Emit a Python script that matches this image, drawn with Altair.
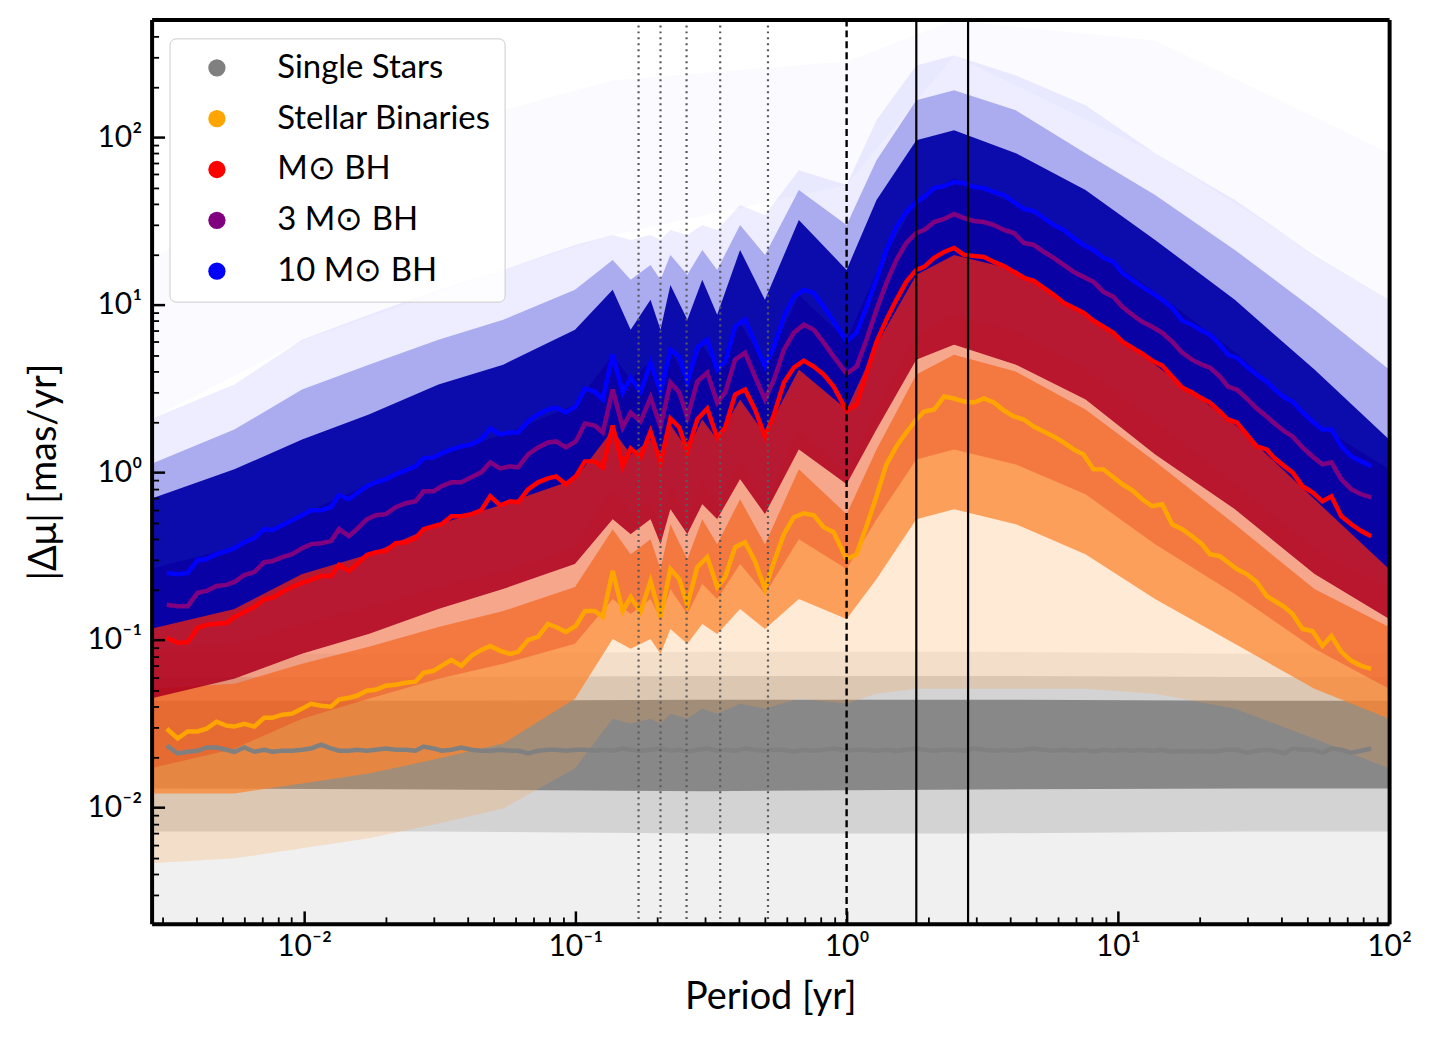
import altair as alt
import pandas as pd

# ---------------- median curves ----------------
PERIOD = [0.003116, 0.003419, 0.003720, 0.004049, 0.004369, 0.004755, 0.005172, 0.005534, 0.006022, 0.006553,
          0.007131, 0.007629, 0.008305, 0.009036, 0.009833, 0.01061, 0.01155, 0.01256, 0.01344, 0.01463,
          0.01565, 0.01703, 0.01837, 0.01999, 0.02176, 0.02367, 0.02576, 0.02757, 0.03000, 0.03209,
          0.03492, 0.03800, 0.04135, 0.04499, 0.04855, 0.05283, 0.05749, 0.06152, 0.06694, 0.07285,
          0.07926, 0.08482, 0.09229, 0.1004, 0.1084, 0.1179,
          0.1262, 0.1373, 0.1494, 0.1599, 0.1739, 0.1893, 0.2060, 0.2241, 0.2417, 0.2587,
          0.2815, 0.3063, 0.3333, 0.3567, 0.3881, 0.4222, 0.4595, 0.5000, 0.5397, 0.5873,
          0.6390, 0.6953, 0.7566, 0.8233, 0.8959, 1.0, 1.088, 1.184, 1.289,
          1.402, 1.526, 1.660, 1.807, 1.932, 2.103, 2.288, 2.490, 2.710, 2.949,
          3.209, 3.493, 3.800, 4.136, 4.500, 4.897, 5.329, 5.799, 6.310, 6.867,
          7.472, 8.131, 8.848, 9.627, 10.39,
          11.30, 12.30, 13.38, 14.57, 15.85, 17.25, 18.77, 20.42, 21.85, 23.78,
          25.44, 27.45, 29.87, 32.50, 35.37, 37.84, 41.18, 44.06, 47.95, 52.17,
          56.77, 61.26, 66.66, 72.54, 78.93, 85.89]

SINGLE = [0.0234, 0.0210, 0.0215, 0.0218, 0.0228, 0.0228, 0.0221, 0.0215, 0.0228, 0.0215,
          0.0221, 0.0215, 0.0218, 0.0218, 0.0221, 0.0225, 0.0237, 0.0225, 0.0218, 0.0218,
          0.0221, 0.0218, 0.0221, 0.0225, 0.0221, 0.0221, 0.0218, 0.0231, 0.0225, 0.0218,
          0.0221, 0.0228, 0.0221, 0.0218, 0.0218, 0.0221, 0.0218, 0.0218, 0.0210, 0.0218,
          0.0221, 0.0221, 0.0218, 0.0221, 0.0221, 0.0218,
          0.0221, 0.0218, 0.0225, 0.0221, 0.0218, 0.0221, 0.0225, 0.0218, 0.0221, 0.0215,
          0.0221, 0.0225, 0.0218, 0.0221, 0.0218, 0.0225, 0.0221, 0.0218, 0.0221, 0.0221,
          0.0215, 0.0221, 0.0218, 0.0221, 0.0225, 0.0218, 0.0221, 0.0221, 0.0218,
          0.0221, 0.0218, 0.0221, 0.0225, 0.0221, 0.0218, 0.0221, 0.0221, 0.0218, 0.0225,
          0.0221, 0.0218, 0.0221, 0.0218, 0.0221, 0.0225, 0.0221, 0.0218, 0.0221, 0.0218,
          0.0221, 0.0215, 0.0221, 0.0218, 0.0221,
          0.0218, 0.0221, 0.0218, 0.0221, 0.0215, 0.0218, 0.0215, 0.0218, 0.0215, 0.0218,
          0.0221, 0.0221, 0.0212, 0.0218, 0.0221, 0.0218, 0.0210, 0.0225, 0.0221, 0.0221,
          0.0212, 0.0225, 0.0221, 0.0212, 0.0218, 0.0225]

BINARY = [0.0295, 0.0258, 0.0284, 0.0284, 0.0295, 0.0325, 0.0308, 0.0304, 0.0316, 0.0304,
          0.0343, 0.0343, 0.0358, 0.0363, 0.0389, 0.0416, 0.0405, 0.0399, 0.0440, 0.0452,
          0.0464, 0.0497, 0.0504, 0.0533, 0.0540, 0.0555, 0.0563, 0.0636, 0.0654, 0.0700,
          0.0761, 0.0700, 0.0803, 0.0872, 0.0921, 0.0861, 0.0826, 0.0849, 0.1000, 0.1042,
          0.1245, 0.1195, 0.1116, 0.1212, 0.1488, 0.1488,
          0.1371, 0.2575, 0.1488, 0.1803, 0.1468, 0.2245, 0.1371, 0.2647, 0.2308, 0.1616,
          0.2720, 0.3120, 0.2068, 0.2372, 0.3578, 0.3830, 0.2954, 0.2012, 0.2913, 0.4277,
          0.5399, 0.5703, 0.5549, 0.4707, 0.4395, 0.3035, 0.3250, 0.4770, 0.7200,
          1.116, 1.428, 1.730, 2.068, 2.308, 2.372, 2.835, 2.758, 2.647, 2.611,
          2.758, 2.611, 2.339, 2.155, 2.068, 1.879, 1.754, 1.638, 1.509, 1.371,
          1.280, 1.042, 1.042, 0.934, 0.849,
          0.782, 0.691, 0.628, 0.645, 0.490, 0.458, 0.416, 0.373, 0.325, 0.316,
          0.291, 0.265, 0.247, 0.2215, 0.1828, 0.1707, 0.1572, 0.1428, 0.1163, 0.1131,
          0.0921, 0.1056, 0.0849, 0.0750, 0.0700, 0.0672]

BH1 = [0.103, 0.096, 0.097, 0.118, 0.123, 0.125, 0.126, 0.137, 0.147, 0.157,
       0.175, 0.178, 0.193, 0.207, 0.219, 0.228, 0.241, 0.241, 0.280, 0.258,
       0.284, 0.321, 0.334, 0.339, 0.378, 0.383, 0.405, 0.458, 0.477, 0.490,
       0.547, 0.547, 0.563, 0.594, 0.720, 0.636, 0.672, 0.663, 0.792, 0.872,
       0.921, 0.947, 0.849, 0.947, 1.163, 1.163,
       1.071, 1.905, 1.086, 1.390, 1.228, 1.754, 1.147, 2.097, 1.853, 1.334,
       2.068, 2.405, 1.616, 1.853, 2.913, 3.120, 2.372, 1.638, 2.215, 3.434,
       4.218, 4.643, 4.277, 3.832, 3.251, 2.339, 2.540, 3.939, 6.024,
       8.145, 10.71, 13.71, 16.16, 16.84, 19.05, 20.68, 21.85, 19.85, 19.58,
       19.31, 18.03, 17.07, 15.72, 14.48, 13.90, 12.63, 11.47, 10.28, 9.602,
       8.965, 8.034, 7.400, 6.815, 6.024,
       5.549, 5.111, 4.643, 4.336, 3.729, 3.207, 2.994, 2.758, 2.611, 2.308,
       2.068, 1.985, 1.684, 1.428, 1.371, 1.212, 1.086, 1.000, 0.826, 0.761,
       0.672, 0.720, 0.547, 0.490, 0.446, 0.416]

BH3 = [0.162, 0.159, 0.159, 0.191, 0.196, 0.210, 0.213, 0.222, 0.244, 0.254,
       0.291, 0.295, 0.312, 0.325, 0.353, 0.373, 0.378, 0.389, 0.458, 0.416,
       0.458, 0.525, 0.555, 0.563, 0.619, 0.654, 0.672, 0.771, 0.771, 0.826,
       0.872, 0.872, 0.934, 1.000, 1.147, 1.056, 1.086, 1.071, 1.280, 1.409,
       1.509, 1.530, 1.409, 1.530, 1.958, 1.905,
       1.730, 3.120, 1.853, 2.276, 2.012, 2.796, 1.879, 3.434, 2.994, 2.126,
       3.481, 3.939, 2.611, 2.994, 4.707, 5.181, 3.729, 2.720, 3.578, 5.399,
       6.815, 7.606, 7.101, 5.942, 4.905, 3.885, 4.277, 6.192, 9.342,
       13.52, 18.53, 23.39, 26.83, 27.96, 31.20, 32.51, 34.81, 32.96, 31.63,
       31.20, 29.94, 27.96, 26.83, 23.39, 22.76, 20.68, 19.05, 17.30, 15.72,
       14.68, 13.71, 11.95, 11.16, 9.734,
       8.724, 7.925, 7.400, 6.815, 6.024, 5.181, 4.707, 4.395, 4.218, 3.729,
       3.251, 3.120, 2.758, 2.405, 2.155, 1.958, 1.754, 1.638, 1.409, 1.245,
       1.116, 1.147, 0.909, 0.792, 0.740, 0.710]

BH10 = [0.251, 0.247, 0.251, 0.299, 0.304, 0.325, 0.339, 0.353, 0.383, 0.405,
        0.458, 0.452, 0.484, 0.518, 0.555, 0.594, 0.594, 0.619, 0.730, 0.691,
        0.750, 0.826, 0.872, 0.909, 0.973, 1.028, 1.086, 1.212, 1.228, 1.298,
        1.371, 1.428, 1.468, 1.572, 1.828, 1.684, 1.730, 1.730, 2.012, 2.215,
        2.372, 2.438, 2.276, 2.471, 3.163, 3.035,
        2.720, 5.041, 2.994, 3.678, 3.035, 4.517, 3.035, 5.399, 4.905, 3.434,
        5.549, 6.192, 4.104, 4.579, 7.400, 8.145, 5.942, 4.277, 5.626, 8.488,
        11.16, 12.28, 11.79, 9.734, 7.925, 6.024, 6.815, 9.734, 14.28,
        21.26, 29.13, 35.78, 41.04, 43.95, 49.72, 51.11, 53.99, 53.25, 50.41,
        49.72, 47.07, 45.17, 41.04, 37.29, 36.28, 32.96, 29.94, 27.96, 25.06,
        22.76, 21.26, 19.05, 18.03, 15.51,
        14.09, 12.80, 11.79, 10.71, 9.602, 8.034, 7.606, 7.004, 6.631, 5.782,
        5.041, 4.838, 4.277, 3.832, 3.481, 3.120, 2.796, 2.647, 2.276, 2.012,
        1.803, 1.803, 1.428, 1.245, 1.163, 1.086]

# ---------------- point-cloud envelopes ----------------
ENV_P = [0.0027, 0.00553, 0.00983, 0.01732, 0.03129, 0.05419, 0.0997, 0.1373, 0.1599, 0.1893,
         0.2060, 0.2241, 0.2587, 0.2937, 0.3333, 0.4048, 0.5000, 0.6666, 1.000, 1.289,
         1.807, 2.490, 4.206, 7.597, 13.72, 26.99, 53.06, 100.0]

BLUE_HAZE_TOP = [2.068, 3.342, 6.192, 8.724, 12.28, 16.16, 22.76, 26.11, 24.38, 26.11,
                 24.38, 27.96, 26.11, 29.94, 27.96, 39.39, 34.34, 63.64, 51.81, 126.3,
                 268.3, 307.7, 233.9, 155.1, 80.34, 42.18, 19.85, 10.71]
BLUE_MID_TOP = [1.116, 1.803, 3.120, 4.395, 6.192, 8.145, 12.28, 18.53, 14.09, 17.30,
                14.09, 19.85, 15.09, 21.26, 16.16, 29.94, 19.85, 48.38, 29.94, 72.99,
                166.1, 190.5, 144.8, 80.34, 45.17, 21.26, 9.342, 4.104]
BLUE_CORE_TOP = [0.691, 1.042, 1.572, 2.215, 3.342, 4.395, 7.101, 12.28, 7.101, 10.71,
                 7.101, 13.15, 8.145, 14.09, 8.724, 21.26, 10.71, 32.07, 16.16, 42.18,
                 96.02, 110.1, 80.34, 48.38, 24.38, 10.71, 4.104, 1.572]
BLUE_CORE_BOT = [0.1163, 0.1530, 0.2471, 0.325, 0.490, 0.645, 0.909, 1.803, 1.280, 1.572,
                 1.195, 1.931, 1.371, 2.068, 1.572, 2.720, 1.684, 4.104, 2.372, 5.782,
                 15.09, 19.85, 16.16, 8.724, 4.395, 1.931, 0.691, 0.2647]

RED_TOP = [0.2647, 0.3578, 0.563, 0.849, 1.280, 1.684, 2.540, 5.041, 3.578, 4.579,
           2.994, 5.399, 3.481, 5.782, 4.218, 7.925, 4.277, 11.47, 6.192, 15.72,
           42.18, 57.03, 39.93, 23.08, 11.95, 5.252, 1.985, 1.042]
RED_CORE_BOT = [0.04456, 0.0586, 0.0826, 0.1086, 0.1530, 0.2012, 0.2835, 0.525, 0.4277, 0.525,
                0.373, 0.6024, 0.4277, 0.645, 0.525, 0.909, 0.563, 1.371, 0.849, 1.803,
                4.707, 5.782, 4.395, 2.720, 1.280, 0.6024, 0.2471, 0.1334]
RED_HAZE_BOT = [0.01707, 0.02245, 0.03388, 0.04456, 0.0586, 0.07199, 0.09471, 0.1754, 0.1428, 0.1754,
                0.1334, 0.2012, 0.1428, 0.2155, 0.1754, 0.2835, 0.1879, 0.3993, 0.2647, 0.525,
                1.195, 1.371, 1.116, 0.740, 0.373, 0.1879, 0.08844, 0.05111]

ORANGE_HAZE_TOP = [0.08844, 0.09471, 0.1245, 0.1572, 0.2068, 0.2575, 0.3578, 0.792, 0.563, 0.691,
                   0.458, 0.849, 0.525, 0.909, 0.645, 1.195, 0.645, 1.803, 0.973, 2.372,
                   6.631, 8.724, 6.909, 4.104, 2.012, 0.849, 0.3481, 0.2068]
ORANGE_CORE_TOP = [0.05111, 0.05473, 0.07199, 0.09089, 0.1195, 0.1488, 0.2068, 0.458, 0.325, 0.3993,
                   0.2647, 0.490, 0.3035, 0.525, 0.373, 0.691, 0.373, 1.042, 0.563, 1.371,
                   3.832, 5.041, 3.993, 2.372, 1.163, 0.490, 0.2012, 0.1195]
ORANGE_CORE_BOT = [0.01212, 0.01212, 0.01390, 0.01594, 0.01958, 0.02405, 0.04456, 0.1014, 0.08844, 0.1014,
                   0.0826, 0.1163, 0.09471, 0.1245, 0.1086, 0.1530, 0.1163, 0.1754, 0.1334, 0.2308,
                   0.525, 0.6024, 0.490, 0.325, 0.1754, 0.09471, 0.05111, 0.03388]
ORANGE_HAZE_BOT = [0.004643, 0.004972, 0.005703, 0.006541, 0.008034, 0.009872, 0.01707, 0.03388, 0.03163, 0.03388,
                   0.03163, 0.03628, 0.03388, 0.03885, 0.03628, 0.04161, 0.03885, 0.04456, 0.04161, 0.04772,
                   0.05111, 0.05111, 0.05111, 0.05111, 0.04772, 0.03885, 0.02575, 0.01707]

OUT_P = [0.0027, 0.01, 0.054, 0.137, 1.0, 2.49, 13.72, 100.0]
OUT_BOT = [2.07, 6.19, 16.16, 26.11, 51.81, 307.7, 80.34, 10.71]
OUT_TOP = [18.53, 63.64, 144.8, 218.5, 283.5, 497.2, 378.0, 80.34]

GRAY_P = [0.0027, 0.03, 0.3, 3.0, 30.0, 100.0]
GRAY_CORE_TOP = [0.0434, 0.0434, 0.0440, 0.0440, 0.0434, 0.0434]
GRAY_CORE_BOT = [0.0130, 0.0128, 0.0125, 0.0128, 0.0130, 0.0130]
GRAY_MID_TOP = [0.0600, 0.0600, 0.0610, 0.0610, 0.0600, 0.0600]
GRAY_MID_BOT = [0.0072, 0.0072, 0.0070, 0.0070, 0.0072, 0.0072]
GRAY_OUT_TOP = [0.0826, 0.0826, 0.0850, 0.0850, 0.0826, 0.0826]
GRAY_OUT_BOT = [0.00205, 0.00205, 0.00205, 0.00205, 0.00205, 0.00205]

SERIES = ["Single Stars", "Stellar Binaries", "M\u2299 BH", "3 M\u2299 BH", "10 M\u2299 BH"]
COLORS = ["#808080", "#ffa500", "#ff0000", "#800080", "#0000ff"]

DOTTED = [0.171, 0.206, 0.257, 0.342, 0.513]
DASHED = [1.0]
SOLID = [1.807, 2.804]

X_MAJOR = [0.01, 0.1, 1, 10, 100]
X_MINOR = [0.003, 0.004, 0.005, 0.006, 0.007, 0.008, 0.009,
           0.02, 0.03, 0.04, 0.05, 0.06, 0.07, 0.08, 0.09,
           0.2, 0.3, 0.4, 0.5, 0.6, 0.7, 0.8, 0.9,
           2, 3, 4, 5, 6, 7, 8, 9,
           20, 30, 40, 50, 60, 70, 80, 90]
Y_MAJOR = [0.01, 0.1, 1, 10, 100]
Y_MINOR = [0.003, 0.004, 0.005, 0.006, 0.007, 0.008, 0.009,
           0.02, 0.03, 0.04, 0.05, 0.06, 0.07, 0.08, 0.09,
           0.2, 0.3, 0.4, 0.5, 0.6, 0.7, 0.8, 0.9,
           2, 3, 4, 5, 6, 7, 8, 9,
           20, 30, 40, 50, 60, 70, 80, 90,
           200, 300, 400, 500]

# ---------------- tables ----------------
env_df = pd.DataFrame({
    "P": ENV_P,
    "bh_top": BLUE_HAZE_TOP, "bm_top": BLUE_MID_TOP, "bc_top": BLUE_CORE_TOP, "bc_bot": BLUE_CORE_BOT,
    "r_top": RED_TOP, "rc_bot": RED_CORE_BOT, "rh_bot": RED_HAZE_BOT,
    "oh_top": ORANGE_HAZE_TOP, "oc_top": ORANGE_CORE_TOP, "oc_bot": ORANGE_CORE_BOT, "oh_bot": ORANGE_HAZE_BOT,
})
out_df = pd.DataFrame({"P": OUT_P, "top": OUT_TOP, "bot": OUT_BOT})
gray_df = pd.DataFrame({"P": GRAY_P, "c_top": GRAY_CORE_TOP, "c_bot": GRAY_CORE_BOT,
                        "m_top": GRAY_MID_TOP, "m_bot": GRAY_MID_BOT,
                        "o_top": GRAY_OUT_TOP, "o_bot": GRAY_OUT_BOT})

curves = [SINGLE, BINARY, BH1, BH3, BH10]
long_rows = []
for name, vals in zip(SERIES, curves):
    for p, v in zip(PERIOD, vals):
        long_rows.append({"P": p, "v": v, "series": name})
long_df = pd.DataFrame(long_rows)

# ---------------- scales & axes ----------------
W, H = 1241, 907
FONT = "Lato"
xs = alt.Scale(type="log", domain=[0.00274, 100], nice=False)
ys = alt.Scale(type="log", domain=[0.00202, 505], nice=False)

LBL = ("datum.value < 0.05 ? '10\u207b\u00b2' : datum.value < 0.5 ? '10\u207b\u00b9' : "
       "datum.value < 5 ? '10\u2070' : datum.value < 50 ? '10\u00b9' : '10\u00b2'")

x_main = alt.Axis(orient="bottom", values=X_MAJOR, labelExpr=LBL, ticks=False, domain=True,
                  domainColor="black", domainWidth=4, labelFont=FONT, labelFontSize=30,
                  labelColor="black", labelPadding=8, labelFlush=False, labelOverlap=False,
                  title="Period [yr]", titleFont=FONT, titleFontSize=38, titleFontWeight="normal",
                  titleColor="black", titlePadding=17, grid=False, zindex=1)
y_main = alt.Axis(orient="left", values=Y_MAJOR, labelExpr=LBL, ticks=False, domain=True,
                  domainColor="black", domainWidth=4, labelFont=FONT, labelFontSize=30,
                  labelColor="black", labelPadding=10, labelOverlap=False,
                  title="|\u0394\u03bc| [mas/yr]", titleFont=FONT, titleFontSize=38,
                  titleFontWeight="normal", titleColor="black", titlePadding=24, grid=False, zindex=1)
x_top = alt.Axis(orient="top", domain=True, domainColor="black", domainWidth=4, ticks=False,
                 labels=False, title=None, grid=False, zindex=1)
y_right = alt.Axis(orient="right", domain=True, domainColor="black", domainWidth=4, ticks=False,
                   labels=False, title=None, grid=False, zindex=1)
x_maj_in = alt.Axis(orient="top", offset=-H, values=X_MAJOR, ticks=True, tickSize=13, tickWidth=2.5,
                    tickColor="black", labels=False, domain=False, title=None, grid=False, zindex=1)
y_maj_in = alt.Axis(orient="right", offset=-W, values=Y_MAJOR, ticks=True, tickSize=13, tickWidth=2.5,
                    tickColor="black", labels=False, domain=False, title=None, grid=False, zindex=1)
x_min_in = alt.Axis(orient="top", offset=-H, values=X_MINOR, ticks=True, tickSize=7, tickWidth=1.8,
                    tickColor="black", labels=False, domain=False, title=None, grid=False, zindex=1)
y_min_in = alt.Axis(orient="right", offset=-W, values=Y_MINOR, ticks=True, tickSize=7, tickWidth=1.8,
                    tickColor="black", labels=False, domain=False, title=None, grid=False, zindex=1)


def band(df, top, bot, color, opacity, xaxis=None, yaxis=None):
    return alt.Chart(df).mark_area(color=color, opacity=opacity, clip=True, orient="vertical",
                                   interpolate="linear").encode(
        x=alt.X("P:Q", scale=xs, axis=xaxis),
        y=alt.Y(f"{top}:Q", scale=ys, axis=yaxis),
        y2=alt.Y2(f"{bot}:Q"),
    )


layers = [
    band(gray_df, "o_top", "o_bot", "#808080", 0.12, x_main, y_main),
    band(gray_df, "m_top", "m_bot", "#808080", 0.26, x_top, y_right),
    band(gray_df, "c_top", "c_bot", "#808080", 0.9, x_maj_in, y_maj_in),
    band(env_df, "oh_top", "oh_bot", "#ffa040", 0.22, x_min_in, y_min_in),
    band(env_df, "oc_top", "oc_bot", "#fb8530", 0.75),
    band(env_df, "rc_bot", "rh_bot", "#e8401c", 0.40),
    band(env_df, "r_top", "rc_bot", "#b0001c", 0.90),
    band(out_df, "top", "bot", "#5050ff", 0.03),
    band(env_df, "bh_top", "bc_bot", "#3a3aff", 0.09),
    band(env_df, "bm_top", "bc_bot", "#1414cc", 0.30),
    band(env_df, "bc_top", "bc_bot", "#0000a8", 0.93),
]

for name, vals, col in zip(SERIES, curves, COLORS):
    df = pd.DataFrame({"P": PERIOD, "v": vals})
    layers.append(alt.Chart(df).mark_line(color=col, strokeWidth=4.5, clip=True).encode(
        x=alt.X("P:Q", scale=xs, axis=None), y=alt.Y("v:Q", scale=ys, axis=None)))

legend = alt.Legend(title=None, orient="none", legendX=18, legendY=19, symbolType="circle",
                    symbolSize=300, symbolStrokeWidth=0, symbolOpacity=1, symbolOffset=18,
                    labelFont=FONT, labelFontSize=33, labelColor="black", labelOffset=44,
                    labelLimit=500, rowPadding=17, padding=13,
                    fillColor="rgba(255,255,255,0.85)", strokeColor="#cccccc", cornerRadius=6)
layers.append(alt.Chart(long_df).mark_point(filled=True, opacity=0, size=1).encode(
    x=alt.X("P:Q", scale=xs, axis=None), y=alt.Y("v:Q", scale=ys, axis=None),
    color=alt.Color("series:N", scale=alt.Scale(domain=SERIES, range=COLORS), legend=legend)))

layers.append(alt.Chart(pd.DataFrame({"v": DOTTED})).mark_rule(
    color="#5a5a5a", strokeWidth=2.2, strokeDash=[2, 4]).encode(x=alt.X("v:Q", scale=xs, axis=None)))
layers.append(alt.Chart(pd.DataFrame({"v": DASHED})).mark_rule(
    color="black", strokeWidth=2.4, strokeDash=[7, 4]).encode(x=alt.X("v:Q", scale=xs, axis=None)))
layers.append(alt.Chart(pd.DataFrame({"v": SOLID})).mark_rule(
    color="black", strokeWidth=2.2).encode(x=alt.X("v:Q", scale=xs, axis=None)))

chart = alt.layer(*layers).resolve_axis(x="independent", y="independent").properties(
    width=W, height=H,
    padding={"left": 144, "top": 10, "right": 40, "bottom": 110},
    autosize=alt.AutoSizeParams(type="none"),
    background="white",
).configure_view(stroke=None)

chart.save("out.html", embed_options={"renderer": "svg", "actions": False})
